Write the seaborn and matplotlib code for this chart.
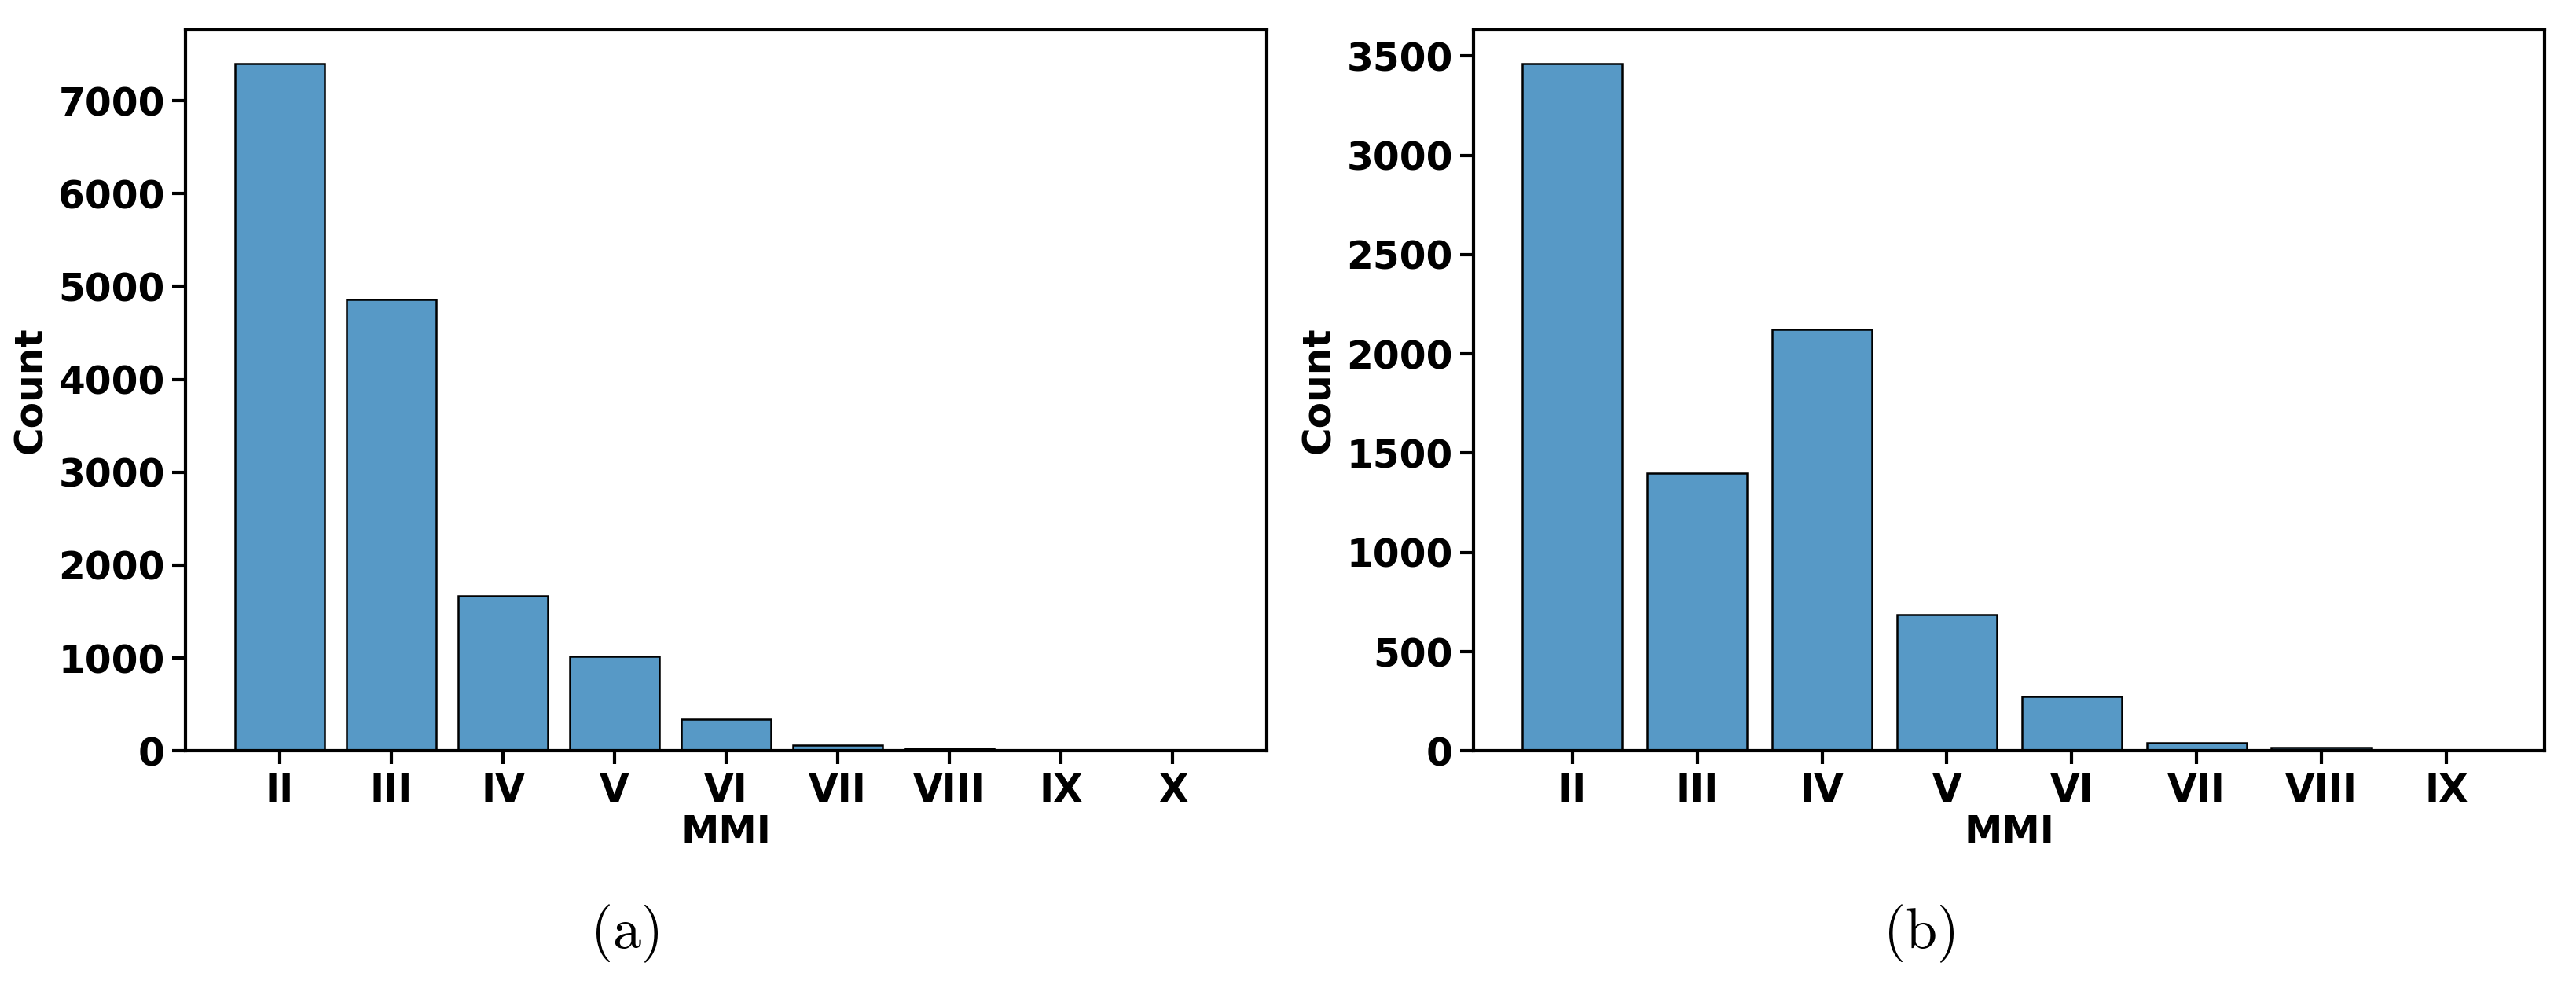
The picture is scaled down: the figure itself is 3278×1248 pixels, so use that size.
import numpy as np
import pandas as pd
import matplotlib
matplotlib.use("Agg")
import matplotlib.pyplot as plt
import seaborn as sns

# MMI class counts
mmi_a = ["II", "III", "IV", "V", "VI", "VII", "VIII", "IX", "X"]
count_a = [7395, 4860, 1670, 1015, 345, 58, 28, 12, 2]

mmi_b = ["II", "III", "IV", "V", "VI", "VII", "VIII", "IX"]
count_b = [3460, 1400, 2125, 685, 275, 40, 17, 2]

plt.rcParams["font.family"] = ["DejaVu Sans"]
plt.rcParams["font.weight"] = "bold"
plt.rcParams["axes.labelweight"] = "bold"
plt.rcParams["mathtext.fontset"] = "cm"

fig = plt.figure(figsize=(16.39, 6.24), dpi=200)
ax_a = fig.add_axes([0.0721, 0.2345, 0.4196, 0.7353])
ax_b = fig.add_axes([0.5721, 0.2345, 0.4158, 0.7353])

panels = [(ax_a, mmi_a, count_a), (ax_b, mmi_b, count_b)]
for ax, cats, counts in panels:
    df = pd.DataFrame({"MMI": pd.Categorical(cats, categories=cats), "Count": counts})
    sns.histplot(data=df, x="MMI", weights="Count", discrete=True, shrink=0.8,
                 edgecolor="black", linewidth=0.9, ax=ax)
    ax.set_xlabel("MMI", fontsize=17.5, fontweight="bold", labelpad=2)
    ax.set_ylabel("Count", fontsize=17.5, fontweight="bold", labelpad=4)
    ax.tick_params(axis="both", labelsize=17.5, width=1.5, length=6)
    for lab in ax.get_xticklabels() + ax.get_yticklabels():
        lab.set_fontweight("bold")
    for sp in ax.spines.values():
        sp.set_linewidth(1.5)
        sp.set_color("black")

fig.text(0.2424, 0.048, r"$\mathrm{(a)}$", ha="center", va="center", fontsize=26)
fig.text(0.7449, 0.048, r"$\mathrm{(b)}$", ha="center", va="center", fontsize=26)

fig.savefig("out.png", dpi=200)
